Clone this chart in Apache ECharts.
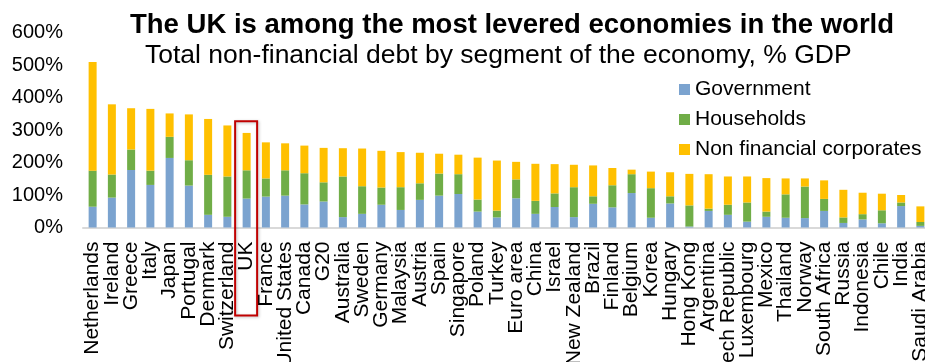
<!DOCTYPE html>
<html>
<head>
<meta charset="utf-8">
<script src="https://cdn.jsdelivr.net/npm/echarts@6/dist/echarts.min.js"></script>
<style>
    html, body {margin: 0; padding: 0; background: #fff;}
    #main {width: 925px; height: 362px;}
</style>
</head>
<body>
<div id="main"></div>
<script>
    //国家/地区
    var countries = ['Netherlands', 'Ireland', 'Greece', 'Italy', 'Japan', 'Portugal', 'Denmark', 'Switzerland', 'UK',
        'France', 'United States', 'Canada', 'G20', 'Australia', 'Sweden', 'Germany', 'Malaysia', 'Austria', 'Spain',
        'Singapore', 'Poland', 'Turkey', 'Euro area', 'China', 'Israel', 'New Zealand', 'Brazil', 'Finland', 'Belgium',
        'Korea', 'Hungary', 'Hong Kong', 'Argentina', 'Czech Republic', 'Luxembourg', 'Mexico', 'Thailand', 'Norway',
        'South Africa', 'Russia', 'Indonesia', 'Chile', 'India', 'Saudi Arabia'];

    //债务 % GDP
    var government = [64, 92, 177, 131, 214, 129, 39, 33, 89, 95, 98, 71, 80, 32, 42, 70, 54, 85, 98, 103, 49, 31, 90,
        42, 63, 32, 73, 62, 106, 30, 74, 3, 51, 39, 18, 33, 30, 29, 51, 14, 25, 13, 66, 5];
    var households = [111, 71, 63, 44, 65, 78, 123, 124, 87, 56, 78, 96, 59, 125, 85, 53, 70, 51, 68, 61, 37, 21, 58,
        40, 42, 92, 23, 68, 58, 91, 22, 65, 7, 31, 59, 16, 72, 97, 37, 17, 16, 40, 11, 12];
    var corporates = [334, 216, 127, 190, 72, 141, 172, 157, 115, 111, 83, 85, 106, 87, 116, 113, 108, 94, 61, 60, 129,
        154, 54, 114, 90, 69, 95, 53, 14, 51, 74, 97, 106, 87, 80, 103, 49, 25, 57, 85, 66, 51, 23, 48];

    var yTicks = [0, 100, 200, 300, 400, 500, 600];
    var highlight = 'UK';

    var font = 'Liberation Sans, Arial, sans-serif';
    var myChart = echarts.init(document.getElementById('main'));

    var option = {
        animation: false,
        textStyle: {fontFamily: font},
        title: [
            {
                text: 'The UK is among the most levered economies in the world',
                left: 125, top: 6,
                textStyle: {fontSize: 27.5, fontWeight: 'bold', color: '#000', fontFamily: font}
            },
            {
                text: 'Total non-financial debt by segment of the economy, % GDP',
                left: 140, top: 37,
                textStyle: {fontSize: 26.5, fontWeight: 'normal', color: '#000', fontFamily: font}
            }
        ],
        legend: {
            orient: 'vertical',
            left: 674, top: 74,
            itemWidth: 11, itemHeight: 11,
            itemGap: 9,
            icon: 'rect',
            textStyle: {fontSize: 21, color: '#000', lineHeight: 21, fontFamily: font},
            data: ['Government', 'Households', 'Non financial corporates']
        },
        grid: {left: 83, top: 32.5, width: 847, height: 195, outerBoundsMode: 'none', containLabel: false},
        xAxis: {
            type: 'category',
            data: countries,
            axisTick: {show: false},
            axisLine: {lineStyle: {color: '#d9d9d9', width: 2}},
            axisLabel: {rotate: 90, interval: 0, margin: 14, fontSize: 21, color: '#000', fontFamily: font}
        },
        yAxis: {
            type: 'value',
            min: yTicks[0], max: yTicks[yTicks.length - 1], interval: 100,
            splitLine: {show: false},
            axisLine: {show: false},
            axisTick: {show: false},
            axisLabel: {margin: 20, fontSize: 20, color: '#000', fontFamily: font, formatter: '{value}%'}
        },
        series: [
            {name: 'Government', type: 'bar', stack: 'debt', barWidth: 8, data: government, itemStyle: {color: '#7ba3cf'}},
            {name: 'Households', type: 'bar', stack: 'debt', barWidth: 8, data: households, itemStyle: {color: '#70ad47'}},
            {name: 'Non financial corporates', type: 'bar', stack: 'debt', barWidth: 8, data: corporates, itemStyle: {color: '#ffc000'}}
        ]
    };
    myChart.setOption(option);

    //UK 红框
    var ukIdx = countries.indexOf(highlight);
    var boxTop = myChart.convertToPixel({seriesIndex: 0}, [ukIdx, 327]);
    var boxBase = myChart.convertToPixel({seriesIndex: 0}, [ukIdx, 0]);
    myChart.setOption({
        graphic: [{
            type: 'rect',
            shape: {x: boxTop[0] - 11.5, y: boxTop[1], width: 22, height: boxBase[1] - boxTop[1] + 88},
            style: {fill: 'transparent', stroke: '#c00000', lineWidth: 2, shadowBlur: 3, shadowColor: 'rgba(0,0,0,0.25)', shadowOffsetX: 1, shadowOffsetY: 1},
            z: 100
        }]
    });
</script>
</body>
</html>
